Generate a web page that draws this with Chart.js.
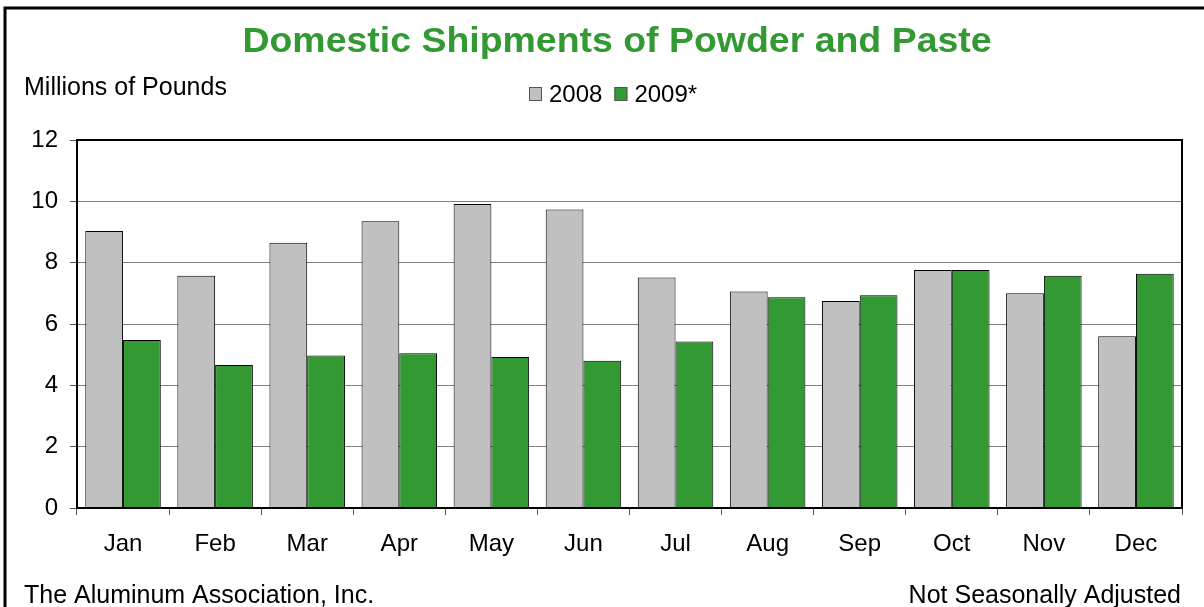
<!DOCTYPE html>
<html>
<head>
<meta charset="utf-8">
<script src="https://cdn.jsdelivr.net/npm/chart.js@4.4.0/dist/chart.umd.min.js"></script>
<style>
  html, body { margin: 0; padding: 0; background: #fff; }
  #wrap { width: 1204px; height: 607px; }
</style>
</head>
<body>
<div id="wrap"><canvas id="chart" width="1204" height="607"></canvas></div>
<script>
/* ── Data ── */
var months = ['Jan', 'Feb', 'Mar', 'Apr', 'May', 'Jun', 'Jul', 'Aug', 'Sep', 'Oct', 'Nov', 'Dec'];
var ship2008 = [9.03, 7.57, 8.65, 9.35, 9.91, 9.73, 7.52, 7.06, 6.75, 7.76, 7.00, 5.60];
var ship2009 = [5.48, 4.66, 4.97, 5.05, 4.92, 4.80, 5.43, 6.87, 6.94, 7.76, 7.57, 7.64];
var yMin = 0, yMax = 12, yStep = 2;

var FONT = 'Arial, "Liberation Sans", sans-serif';
var GREEN = '#339933';
var GRAY = '#c0c0c0';

// text drawn with an optional horizontal stretch
function drawText(ctx, text, x, y, sx) {
  ctx.save();
  ctx.translate(x, y);
  ctx.scale(sx || 1, 1);
  ctx.fillText(text, 0, 0);
  ctx.restore();
}

/* ── Texts, legend and frame drawn on top ── */
var decorations = {
  id: 'decorations',
  afterDraw: function(chart) {
    var ctx = chart.ctx;
    var a = chart.chartArea;
    ctx.save();

    // outer frame (top + left only)
    ctx.strokeStyle = '#000';
    ctx.lineWidth = 3;
    ctx.beginPath();
    ctx.moveTo(5, 607);
    ctx.lineTo(5, 8);
    ctx.lineTo(1204, 8);
    ctx.stroke();

    // plot frame
    ctx.lineWidth = 2;
    ctx.strokeRect(a.left, a.top, a.right - a.left, a.bottom - a.top);

    // title
    ctx.fillStyle = GREEN;
    ctx.font = 'bold 35px ' + FONT;
    ctx.textAlign = 'center';
    ctx.textBaseline = 'alphabetic';
    drawText(ctx, 'Domestic Shipments of Powder and Paste', 617, 52, 1.07);

    ctx.fillStyle = '#000';
    ctx.font = '25px ' + FONT;
    ctx.textAlign = 'left';
    ctx.fillText('Millions of Pounds', 24, 95);

    // legend
    ctx.font = '24px ' + FONT;
    var x = 529;
    chart.data.datasets.forEach(function(ds) {
      ctx.fillStyle = ds.backgroundColor;
      ctx.fillRect(x, 87, 13, 14);
      ctx.strokeStyle = '#555';
      ctx.lineWidth = 1;
      ctx.strokeRect(x + 0.5, 87.5, 12, 13);
      ctx.fillStyle = '#000';
      ctx.fillText(ds.label, x + 20, 102);
      x += 20 + ctx.measureText(ds.label).width + 12;
    });

    // footer
    ctx.font = '25px ' + FONT;
    ctx.fillText('The Aluminum Association, Inc.', 24, 603);
    ctx.textAlign = 'right';
    ctx.fillText('Not Seasonally Adjusted', 1181, 603);

    ctx.restore();
  }
};

new Chart(document.getElementById('chart'), {
  type: 'bar',
  data: {
    labels: months,
    datasets: [
      {
        label: '2008',
        data: ship2008,
        backgroundColor: GRAY,
        borderColor: '#000',
        borderWidth: 1,
        categoryPercentage: 0.82,
        barPercentage: 1.0
      },
      {
        label: '2009*',
        data: ship2009,
        backgroundColor: GREEN,
        borderColor: '#000',
        borderWidth: 1,
        categoryPercentage: 0.82,
        barPercentage: 1.0
      }
    ]
  },
  options: {
    responsive: false,
    animation: false,
    layout: { padding: { left: 0, top: 140, right: 22, bottom: 39 } },
    plugins: {
      legend: { display: false },
      title: { display: false },
      tooltip: { enabled: false }
    },
    scales: {
      x: {
        offset: true,
        grid: {
          offset: true,
          drawOnChartArea: false,
          drawTicks: true,
          tickLength: 7,
          tickColor: '#555'
        },
        border: { color: '#000', width: 2 },
        ticks: { color: '#000', font: { family: FONT, size: 24 }, padding: 15, maxRotation: 0 },
        afterFit: function(scale) { scale.height = 60; }
      },
      y: {
        min: yMin,
        max: yMax,
        grid: {
          color: '#808080',
          lineWidth: 1,
          tickLength: 7,
          tickColor: '#555'
        },
        border: { color: '#000', width: 2 },
        ticks: { stepSize: yStep, color: '#000', font: { family: FONT, size: 24 }, padding: 12 },
        afterFit: function(scale) { scale.width = 77; }
      }
    }
  },
  plugins: [decorations]
});
</script>
</body>
</html>
